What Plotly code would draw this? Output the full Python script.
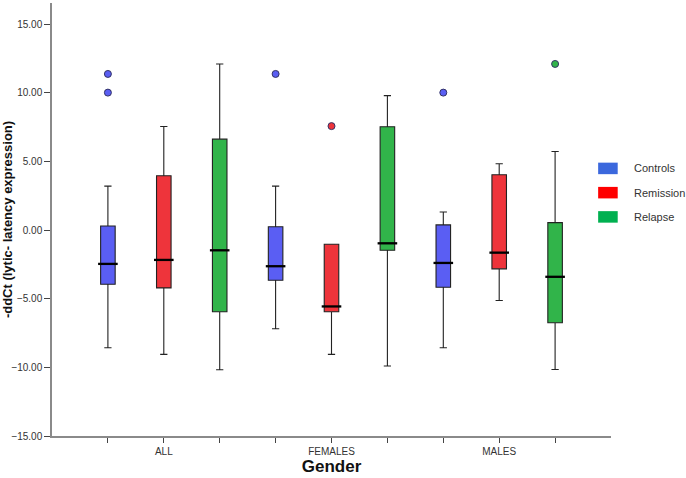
import plotly.graph_objects as go

groups = ["ALL", "FEMALES", "MALES"]
series = ["Controls", "Remission", "Relapse"]

# per series: values for ALL, FEMALES, MALES
upper = {"Controls": [3.21, 3.21, 1.32], "Remission": [7.55, -1.03, 4.84], "Relapse": [12.11, 9.80, 5.73]}
q3 = {"Controls": [0.30, 0.25, 0.38], "Remission": [3.96, -1.03, 4.04], "Relapse": [6.63, 7.53, 0.55]}
median = {"Controls": [-2.46, -2.63, -2.39], "Remission": [-2.17, -5.56, -1.64], "Relapse": [-1.47, -0.96, -3.40]}
q1 = {"Controls": [-3.94, -3.65, -4.16], "Remission": [-4.21, -5.95, -2.82], "Relapse": [-5.95, -1.47, -6.75]}
lower = {"Controls": [-8.57, -7.19, -8.57], "Remission": [-9.05, -9.05, -5.13], "Relapse": [-10.17, -9.90, -10.15]}
# outliers: (group index, value)
outliers = {
    "Controls": [(0, 11.38), (0, 10.02), (1, 11.38), (2, 10.02)],
    "Remission": [(1, 7.58)],
    "Relapse": [(2, 12.11)],
}
y_ticks = [-15, -10, -5, 0, 5, 10, 15]

box_colors = {"Controls": "#5a5ef3", "Remission": "#ee343b", "Relapse": "#31b44a"}
legend_colors = {"Controls": "#3b68dd", "Remission": "#ff0000", "Relapse": "#00b050"}

fig = go.Figure()
for s_i, s in enumerate(series):
    xs = [3 * g + s_i for g in range(len(groups))]
    fig.add_trace(go.Box(
        x=xs, q1=q1[s], median=median[s], q3=q3[s],
        lowerfence=lower[s], upperfence=upper[s],
        width=0.26, whiskerwidth=0.5,
        fillcolor=box_colors[s], line=dict(color="#222222", width=1.1),
        name=s, showlegend=False, hoverinfo="skip",
    ))
    fig.add_trace(go.Scatter(
        x=xs, y=median[s], mode="markers",
        marker=dict(symbol="line-ew", size=14, line=dict(width=2.3, color="#000000")),
        showlegend=False, hoverinfo="skip",
    ))
    ox = [3 * g + s_i for g, v in outliers[s]]
    oy = [v for g, v in outliers[s]]
    fig.add_trace(go.Scatter(
        x=ox, y=oy, mode="markers",
        marker=dict(symbol="circle", size=7, color=box_colors[s], line=dict(width=1, color="#333366")),
        showlegend=False, hoverinfo="skip",
    ))

# manual legend
leg_y = [0.618, 0.562, 0.506]
for s, yy in zip(series, leg_y):
    fig.add_shape(type="rect", xref="paper", yref="paper",
                  x0=0.977, x1=1.012, y0=yy - 0.0133, y1=yy + 0.0133,
                  fillcolor=legend_colors[s], line=dict(width=0))
    fig.add_annotation(xref="paper", yref="paper", x=1.0376, y=yy, text=s,
                       showarrow=False, xanchor="left", yanchor="middle",
                       font=dict(family="Liberation Sans, Arial", size=11, color="#333333"))

ticktext = []
for g in groups:
    ticktext += ["", g, ""]

fig.update_layout(
    width=686, height=478,
    margin=dict(l=52, r=75, t=3, b=42),
    plot_bgcolor="white", paper_bgcolor="white",
    font=dict(family="Liberation Sans, Arial", color="#333333"),
    xaxis=dict(
        range=[-1, 9], tickmode="array", tickvals=list(range(9)), ticktext=ticktext,
        showgrid=False, zeroline=False, showline=True, linecolor="#8a8a8a", linewidth=1.5,
        ticks="outside", ticklen=5, tickcolor="#444444", tickwidth=1,
        tickfont=dict(size=10, color="#333333"), automargin=False,
        title=dict(text="<b>Gender</b>", font=dict(size=17, color="#111111"), standoff=3),
    ),
    yaxis=dict(
        range=[-15, 16.55], tickmode="array", tickvals=y_ticks, tickformat=".2f",
        showgrid=False, zeroline=False, showline=True, linecolor="#8a8a8a", linewidth=1.5,
        ticks="outside", ticklen=6, tickcolor="#444444", tickwidth=1,
        tickfont=dict(size=10, color="#333333"), automargin=False,
        title=dict(text="<b>-ddCt (lytic- latency expression)</b>", font=dict(size=13, color="#111111"), standoff=0),
    ),
)

fig.write_html("out.html", config={"displayModeBar": False},
               post_script="document.body.style.margin='0';")
